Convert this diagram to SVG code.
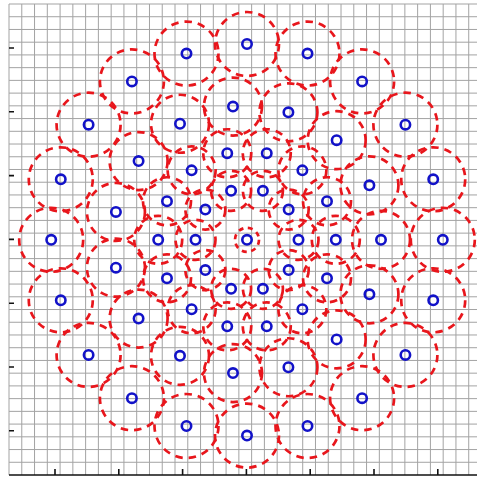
<svg xmlns="http://www.w3.org/2000/svg" width="477" height="478" viewBox="0 0 477 478">
<style>
.grid{stroke:#a3a3a3;stroke-width:1;fill:none}
.axis{stroke:#111;stroke-width:1.6;fill:none}
.tick{stroke:#111;stroke-width:1.6;fill:none}
.cov{fill:none;stroke:#e8161c;stroke-width:2.7;stroke-dasharray:7.5 6}
.pt{fill:none;stroke:#1212c8;stroke-width:2.6}
</style>
<rect x="0" y="0" width="477" height="478" fill="#ffffff"/>
<g id="grid">
<path class="grid" d="M9 4V475M21.77 4V475M34.54 4V475M47.31 4V475M60.08 4V475M72.85 4V475M85.62 4V475M98.39 4V475M111.16 4V475M123.93 4V475M136.7 4V475M149.47 4V475M162.24 4V475M175.01 4V475M187.78 4V475M200.55 4V475M213.32 4V475M226.09 4V475M238.86 4V475M251.63 4V475M264.4 4V475M277.17 4V475M289.94 4V475M302.71 4V475M315.48 4V475M328.25 4V475M341.02 4V475M353.79 4V475M366.56 4V475M379.33 4V475M392.1 4V475M404.87 4V475M417.64 4V475M430.41 4V475M443.18 4V475M455.95 4V475M468.72 4V475"/>
<path class="grid" d="M9 4H477M9 16.73H477M9 29.46H477M9 42.19H477M9 54.92H477M9 67.65H477M9 80.38H477M9 93.11H477M9 105.84H477M9 118.57H477M9 131.3H477M9 144.03H477M9 156.76H477M9 169.49H477M9 182.22H477M9 194.95H477M9 207.68H477M9 220.41H477M9 233.14H477M9 245.87H477M9 258.6H477M9 271.33H477M9 284.06H477M9 296.79H477M9 309.52H477M9 322.25H477M9 334.98H477M9 347.71H477M9 360.44H477M9 373.17H477M9 385.9H477M9 398.63H477M9 411.36H477M9 424.09H477M9 436.82H477M9 449.55H477M9 462.28H477"/>
</g>
<g id="axes">
<path class="axis" d="M9 475H477"/>
<path class="tick" d="M9 48H14M9 111.8H14M9 175.6H14M9 239.4H14M9 303.2H14M9 367H14M9 430.8H14"/>
<path class="tick" d="M55 469V475M118.8 469V475M182.6 469V475M246.4 469V475M310.2 469V475M374 469V475M437.8 469V475"/>
</g>
<g id="connectors"></g>
<g id="ring4">
<g id="n4-0"><circle class="cov" cx="442.8" cy="239.8" r="32"/><circle class="pt" cx="442.8" cy="239.8" r="4.7"/></g>
<g id="n4-1"><circle class="cov" cx="433.22" cy="179.29" r="32"/><circle class="pt" cx="433.22" cy="179.29" r="4.7"/></g>
<g id="n4-2"><circle class="cov" cx="405.41" cy="124.71" r="32"/><circle class="pt" cx="405.41" cy="124.71" r="4.7"/></g>
<g id="n4-3"><circle class="cov" cx="362.09" cy="81.39" r="32"/><circle class="pt" cx="362.09" cy="81.39" r="4.7"/></g>
<g id="n4-4"><circle class="cov" cx="307.51" cy="53.58" r="32"/><circle class="pt" cx="307.51" cy="53.58" r="4.7"/></g>
<g id="n4-5"><circle class="cov" cx="247" cy="44" r="32"/><circle class="pt" cx="247" cy="44" r="4.7"/></g>
<g id="n4-6"><circle class="cov" cx="186.49" cy="53.58" r="32"/><circle class="pt" cx="186.49" cy="53.58" r="4.7"/></g>
<g id="n4-7"><circle class="cov" cx="131.91" cy="81.39" r="32"/><circle class="pt" cx="131.91" cy="81.39" r="4.7"/></g>
<g id="n4-8"><circle class="cov" cx="88.59" cy="124.71" r="32"/><circle class="pt" cx="88.59" cy="124.71" r="4.7"/></g>
<g id="n4-9"><circle class="cov" cx="60.78" cy="179.29" r="32"/><circle class="pt" cx="60.78" cy="179.29" r="4.7"/></g>
<g id="n4-10"><circle class="cov" cx="51.2" cy="239.8" r="32"/><circle class="pt" cx="51.2" cy="239.8" r="4.7"/></g>
<g id="n4-11"><circle class="cov" cx="60.78" cy="300.31" r="32"/><circle class="pt" cx="60.78" cy="300.31" r="4.7"/></g>
<g id="n4-12"><circle class="cov" cx="88.59" cy="354.89" r="32"/><circle class="pt" cx="88.59" cy="354.89" r="4.7"/></g>
<g id="n4-13"><circle class="cov" cx="131.91" cy="398.21" r="32"/><circle class="pt" cx="131.91" cy="398.21" r="4.7"/></g>
<g id="n4-14"><circle class="cov" cx="186.49" cy="426.02" r="32"/><circle class="pt" cx="186.49" cy="426.02" r="4.7"/></g>
<g id="n4-15"><circle class="cov" cx="247" cy="435.6" r="32"/><circle class="pt" cx="247" cy="435.6" r="4.7"/></g>
<g id="n4-16"><circle class="cov" cx="307.51" cy="426.02" r="32"/><circle class="pt" cx="307.51" cy="426.02" r="4.7"/></g>
<g id="n4-17"><circle class="cov" cx="362.09" cy="398.21" r="32"/><circle class="pt" cx="362.09" cy="398.21" r="4.7"/></g>
<g id="n4-18"><circle class="cov" cx="405.41" cy="354.89" r="32"/><circle class="pt" cx="405.41" cy="354.89" r="4.7"/></g>
<g id="n4-19"><circle class="cov" cx="433.22" cy="300.31" r="32"/><circle class="pt" cx="433.22" cy="300.31" r="4.7"/></g>
</g>
<g id="ring3">
<g id="n3-0"><circle class="cov" cx="381" cy="239.8" r="29"/><circle class="pt" cx="381" cy="239.8" r="4.7"/></g>
<g id="n3-1"><circle class="cov" cx="369.42" cy="185.3" r="29"/><circle class="pt" cx="369.42" cy="185.3" r="4.7"/></g>
<g id="n3-2"><circle class="cov" cx="336.66" cy="140.22" r="29"/><circle class="pt" cx="336.66" cy="140.22" r="4.7"/></g>
<g id="n3-3"><circle class="cov" cx="288.41" cy="112.36" r="29"/><circle class="pt" cx="288.41" cy="112.36" r="4.7"/></g>
<g id="n3-4"><circle class="cov" cx="232.99" cy="106.53" r="29"/><circle class="pt" cx="232.99" cy="106.53" r="4.7"/></g>
<g id="n3-5"><circle class="cov" cx="180" cy="123.75" r="29"/><circle class="pt" cx="180" cy="123.75" r="4.7"/></g>
<g id="n3-6"><circle class="cov" cx="138.59" cy="161.04" r="29"/><circle class="pt" cx="138.59" cy="161.04" r="4.7"/></g>
<g id="n3-7"><circle class="cov" cx="115.93" cy="211.94" r="29"/><circle class="pt" cx="115.93" cy="211.94" r="4.7"/></g>
<g id="n3-8"><circle class="cov" cx="115.93" cy="267.66" r="29"/><circle class="pt" cx="115.93" cy="267.66" r="4.7"/></g>
<g id="n3-9"><circle class="cov" cx="138.59" cy="318.56" r="29"/><circle class="pt" cx="138.59" cy="318.56" r="4.7"/></g>
<g id="n3-10"><circle class="cov" cx="180" cy="355.85" r="29"/><circle class="pt" cx="180" cy="355.85" r="4.7"/></g>
<g id="n3-11"><circle class="cov" cx="232.99" cy="373.07" r="29"/><circle class="pt" cx="232.99" cy="373.07" r="4.7"/></g>
<g id="n3-12"><circle class="cov" cx="288.41" cy="367.24" r="29"/><circle class="pt" cx="288.41" cy="367.24" r="4.7"/></g>
<g id="n3-13"><circle class="cov" cx="336.66" cy="339.38" r="29"/><circle class="pt" cx="336.66" cy="339.38" r="4.7"/></g>
<g id="n3-14"><circle class="cov" cx="369.42" cy="294.3" r="29"/><circle class="pt" cx="369.42" cy="294.3" r="4.7"/></g>
</g>
<g id="ring2">
<g id="n2-0"><circle class="cov" cx="335.8" cy="239.8" r="24"/><circle class="pt" cx="335.8" cy="239.8" r="4.7"/></g>
<g id="n2-1"><circle class="cov" cx="327.01" cy="201.27" r="24"/><circle class="pt" cx="327.01" cy="201.27" r="4.7"/></g>
<g id="n2-2"><circle class="cov" cx="302.37" cy="170.37" r="24"/><circle class="pt" cx="302.37" cy="170.37" r="4.7"/></g>
<g id="n2-3"><circle class="cov" cx="266.76" cy="153.23" r="24"/><circle class="pt" cx="266.76" cy="153.23" r="4.7"/></g>
<g id="n2-4"><circle class="cov" cx="227.24" cy="153.23" r="24"/><circle class="pt" cx="227.24" cy="153.23" r="4.7"/></g>
<g id="n2-5"><circle class="cov" cx="191.63" cy="170.37" r="24"/><circle class="pt" cx="191.63" cy="170.37" r="4.7"/></g>
<g id="n2-6"><circle class="cov" cx="166.99" cy="201.27" r="24"/><circle class="pt" cx="166.99" cy="201.27" r="4.7"/></g>
<g id="n2-7"><circle class="cov" cx="158.2" cy="239.8" r="24"/><circle class="pt" cx="158.2" cy="239.8" r="4.7"/></g>
<g id="n2-8"><circle class="cov" cx="166.99" cy="278.33" r="24"/><circle class="pt" cx="166.99" cy="278.33" r="4.7"/></g>
<g id="n2-9"><circle class="cov" cx="191.63" cy="309.23" r="24"/><circle class="pt" cx="191.63" cy="309.23" r="4.7"/></g>
<g id="n2-10"><circle class="cov" cx="227.24" cy="326.37" r="24"/><circle class="pt" cx="227.24" cy="326.37" r="4.7"/></g>
<g id="n2-11"><circle class="cov" cx="266.76" cy="326.37" r="24"/><circle class="pt" cx="266.76" cy="326.37" r="4.7"/></g>
<g id="n2-12"><circle class="cov" cx="302.37" cy="309.23" r="24"/><circle class="pt" cx="302.37" cy="309.23" r="4.7"/></g>
<g id="n2-13"><circle class="cov" cx="327.01" cy="278.33" r="24"/><circle class="pt" cx="327.01" cy="278.33" r="4.7"/></g>
</g>
<g id="ring1">
<g id="n1-0"><circle class="cov" cx="298.5" cy="239.8" r="20"/><circle class="pt" cx="298.5" cy="239.8" r="4.7"/></g>
<g id="n1-1"><circle class="cov" cx="288.66" cy="209.53" r="20"/><circle class="pt" cx="288.66" cy="209.53" r="4.7"/></g>
<g id="n1-2"><circle class="cov" cx="262.91" cy="190.82" r="20"/><circle class="pt" cx="262.91" cy="190.82" r="4.7"/></g>
<g id="n1-3"><circle class="cov" cx="231.09" cy="190.82" r="20"/><circle class="pt" cx="231.09" cy="190.82" r="4.7"/></g>
<g id="n1-4"><circle class="cov" cx="205.34" cy="209.53" r="20"/><circle class="pt" cx="205.34" cy="209.53" r="4.7"/></g>
<g id="n1-5"><circle class="cov" cx="195.5" cy="239.8" r="20"/><circle class="pt" cx="195.5" cy="239.8" r="4.7"/></g>
<g id="n1-6"><circle class="cov" cx="205.34" cy="270.07" r="20"/><circle class="pt" cx="205.34" cy="270.07" r="4.7"/></g>
<g id="n1-7"><circle class="cov" cx="231.09" cy="288.78" r="20"/><circle class="pt" cx="231.09" cy="288.78" r="4.7"/></g>
<g id="n1-8"><circle class="cov" cx="262.91" cy="288.78" r="20"/><circle class="pt" cx="262.91" cy="288.78" r="4.7"/></g>
<g id="n1-9"><circle class="cov" cx="288.66" cy="270.07" r="20"/><circle class="pt" cx="288.66" cy="270.07" r="4.7"/></g>
</g>
<g id="n0"><circle class="cov" cx="247" cy="239.8" r="12" style="stroke-dasharray:5 4.5"/><circle class="pt" cx="247" cy="239.8" r="4.7"/></g>
</svg>
